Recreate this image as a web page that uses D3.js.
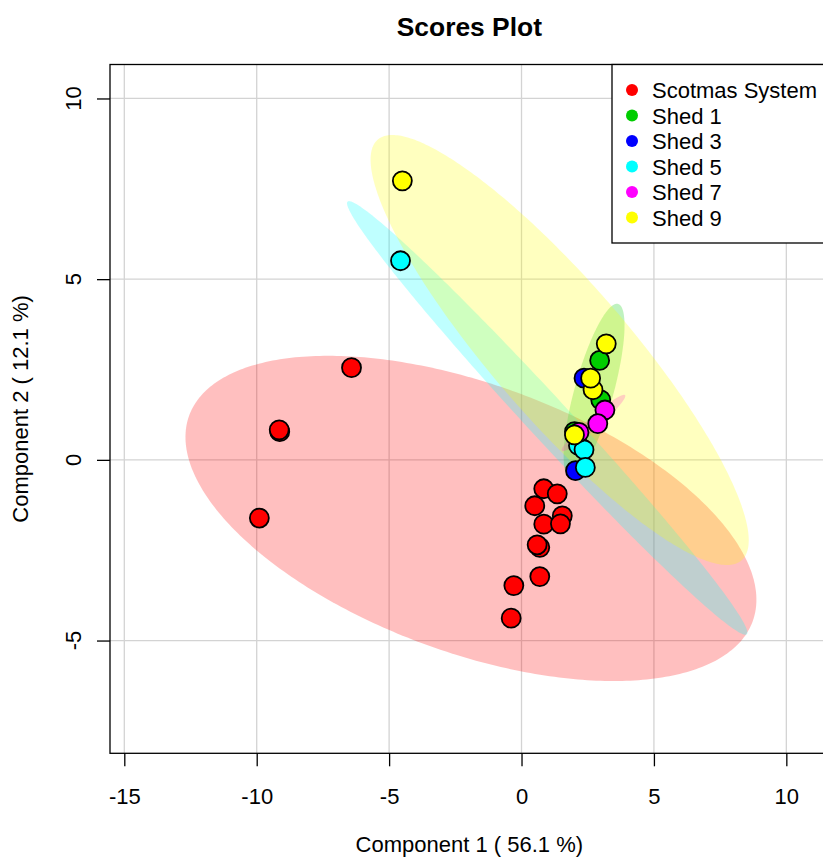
<!DOCTYPE html>
<html>
<head>
<meta charset="utf-8">
<script src="https://cdn.jsdelivr.net/npm/d3@7"></script>
<style>
  body { margin: 0; background: #fff; }
  svg { display: block; font-family: 'Liberation Sans', Arial, sans-serif; }
</style>
</head>
<body>
<div id="chart"></div>
<script>
// groups, in drawing order
const groups = ['Scotmas System', 'Shed 1', 'Shed 3', 'Shed 5', 'Shed 7', 'Shed 9'];
const groupColors = ['#FF0000', '#00CD00', '#0000FF', '#00FFFF', '#FF00FF', '#FFFF00'];

// scores
const pc1 = [
  -6.42, -9.13, -9.15, -9.90, 0.84, 1.35, 0.50, 1.54, 0.84, 1.47, 0.69, 0.59, 0.69, -0.29, -0.39,
  2.95, 2.99, 2.00,
  2.36, 2.04,
  -4.57, 2.15, 2.36, 2.41,
  2.17, 3.15, 2.88,
  -4.50, 3.20, 2.70, 2.61, 2.00
];
const pc2 = [
  2.55, 0.78, 0.83, -1.61, -0.80, -0.94, -1.27, -1.55, -1.78, -1.77, -2.42, -2.35, -3.23, -3.48, -4.38,
  2.75, 1.66, 0.78,
  2.26, -0.30,
  5.51, 0.40, 0.28, -0.21,
  0.76, 1.38, 1.00,
  7.72, 3.21, 1.94, 2.26, 0.69
];
const pointGroup = [
  0, 0, 0, 0, 0, 0, 0, 0, 0, 0, 0, 0, 0, 0, 0,
  1, 1, 1,
  2, 2,
  3, 3, 3, 3,
  4, 4, 4,
  5, 5, 5, 5, 5
];

// confidence ellipses: centre, half extents along each axis, correlation
const ellGroup = [0, 1, 3, 4, 5];
const ellCx = [-1.91, 2.74, 0.97, 2.72, 1.44];
const ellCy = [-1.62, 1.91, 1.16, 1.02, 3.04];
const ellSx = [10.78, 1.15, 7.56, 1.20, 7.14];
const ellSy = [4.50, 2.41, 6.00, 0.78, 5.95];
const ellRho = [-0.50, 0.75, -0.99, 0.96, -0.885];

const xTicks = [-15, -10, -5, 0, 5, 10];
const yTicks = [-5, 0, 5, 10];

const W = 823, H = 857;
const plot = { left: 110, top: 64.5, right: 828.7, bottom: 753.3 };

const svg = d3.select('#chart').append('svg')
  .attr('width', W).attr('height', H);

const x = d3.scaleLinear().domain([-15.54, 11.6]).range([plot.left, plot.right]);
const y = d3.scaleLinear().domain([-8.12, 10.94]).range([plot.bottom, plot.top]);

// grid
svg.append('g').selectAll('line').data(xTicks).join('line')
  .attr('x1', d => x(d)).attr('x2', d => x(d))
  .attr('y1', plot.top).attr('y2', plot.bottom)
  .attr('stroke', '#D3D3D3').attr('stroke-width', 1.3);
svg.append('g').selectAll('line').data(yTicks).join('line')
  .attr('x1', plot.left).attr('x2', plot.right)
  .attr('y1', d => y(d)).attr('y2', d => y(d))
  .attr('stroke', '#D3D3D3').attr('stroke-width', 1.3);

// ellipses
const tSteps = d3.range(0, 2 * Math.PI, Math.PI / 180);
const ellLine = d3.line().curve(d3.curveLinearClosed);
svg.append('g').selectAll('path').data(ellGroup).join('path')
  .attr('d', (g, i) => {
    const s = Math.sqrt(1 - ellRho[i] * ellRho[i]);
    return ellLine(tSteps.map(t => [
      x(ellCx[i] + ellSx[i] * Math.cos(t)),
      y(ellCy[i] + ellSy[i] * (ellRho[i] * Math.cos(t) + s * Math.sin(t)))
    ]));
  })
  .attr('fill', g => groupColors[g])
  .attr('fill-opacity', 0.25)
  .attr('stroke', 'none');

// points
svg.append('g').selectAll('circle').data(pc1.map((v, i) => i)).join('circle')
  .attr('cx', i => x(pc1[i]))
  .attr('cy', i => y(pc2[i]))
  .attr('r', 9.5)
  .attr('fill', i => groupColors[pointGroup[i]])
  .attr('stroke', '#000')
  .attr('stroke-width', 1.8);

// frame
svg.append('rect')
  .attr('x', plot.left).attr('y', plot.top)
  .attr('width', plot.right - plot.left).attr('height', plot.bottom - plot.top)
  .attr('fill', 'none').attr('stroke', '#000').attr('stroke-width', 1.3);

// axes
const xAxis = svg.append('g')
  .attr('transform', `translate(0,${plot.bottom})`)
  .call(d3.axisBottom(x).tickValues(xTicks).tickSize(13).tickPadding(22).tickFormat(d3.format('d')));
xAxis.select('.domain').remove();
xAxis.selectAll('line').attr('stroke-width', 1.3);
xAxis.selectAll('text').attr('font-size', 22).attr('font-family', 'Liberation Sans, Arial, sans-serif')
  .attr('fill', '#000').text(d => String(d).replace('−', '-'));

const yAxis = svg.append('g')
  .attr('transform', `translate(${plot.left},0)`)
  .call(d3.axisLeft(y).tickValues(yTicks).tickSize(13).tickFormat(''));
yAxis.select('.domain').remove();
yAxis.selectAll('line').attr('stroke-width', 1.3);
svg.append('g').selectAll('text').data(yTicks).join('text')
  .attr('transform', d => `translate(81,${y(d)}) rotate(-90)`)
  .attr('text-anchor', 'middle')
  .attr('font-size', 22)
  .text(d => String(d));

// title and axis labels
svg.append('text')
  .attr('x', (plot.left + plot.right) / 2).attr('y', 36)
  .attr('text-anchor', 'middle')
  .attr('font-size', 26.4).attr('font-weight', 'bold')
  .text('Scores Plot');

svg.append('text')
  .attr('x', (plot.left + plot.right) / 2).attr('y', 852)
  .attr('text-anchor', 'middle')
  .attr('font-size', 22)
  .text('Component 1 ( 56.1 %)');

svg.append('text')
  .attr('transform', `translate(28,${(plot.top + plot.bottom) / 2}) rotate(-90)`)
  .attr('text-anchor', 'middle')
  .attr('font-size', 22)
  .text('Component 2 ( 12.1 %)');

// legend
const legend = svg.append('g');
legend.append('rect')
  .attr('x', 612).attr('y', plot.top)
  .attr('width', 240).attr('height', 178.5)
  .attr('fill', '#fff').attr('stroke', '#000').attr('stroke-width', 1.3);
const rows = legend.selectAll('g.row').data(groups).join('g')
  .attr('class', 'row')
  .attr('transform', (d, i) => `translate(0,${90 + i * 25.5})`);
rows.append('circle')
  .attr('cx', 632).attr('cy', 0).attr('r', 6)
  .attr('fill', (d, i) => groupColors[i]);
rows.append('text')
  .attr('x', 652).attr('y', 8)
  .attr('font-size', 22)
  .text(d => d);
</script>
</body>
</html>
